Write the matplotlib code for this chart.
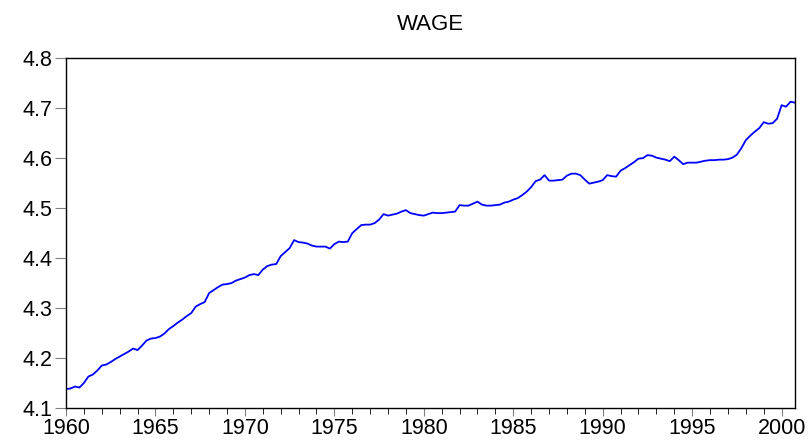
import numpy as np
import matplotlib.pyplot as plt
from matplotlib.ticker import MultipleLocator

plt.rcParams['font.family'] = ['Liberation Sans', 'DejaVu Sans']

# quarterly observations, 1960Q1 .. 2000Q4
start_year = 1960
wage = [
    4.138, 4.139, 4.143, 4.141,  # 1960
    4.150, 4.163, 4.167, 4.175,  # 1961
    4.185, 4.187, 4.192, 4.198,  # 1962
    4.203, 4.208, 4.213, 4.219,  # 1963
    4.216, 4.225, 4.235, 4.239,  # 1964
    4.240, 4.243, 4.249, 4.258,  # 1965
    4.264, 4.271, 4.277, 4.284,  # 1966
    4.290, 4.303, 4.308, 4.312,  # 1967
    4.330, 4.336, 4.342, 4.347,  # 1968
    4.348, 4.350, 4.355, 4.358,  # 1969
    4.361, 4.366, 4.368, 4.366,  # 1970
    4.377, 4.384, 4.387, 4.388,  # 1971
    4.404, 4.412, 4.420, 4.436,  # 1972
    4.432, 4.431, 4.429, 4.425,  # 1973
    4.423, 4.423, 4.423, 4.419,  # 1974
    4.428, 4.433, 4.432, 4.433,  # 1975
    4.450, 4.458, 4.466, 4.467,  # 1976
    4.467, 4.470, 4.477, 4.488,  # 1977
    4.485, 4.487, 4.489, 4.493,  # 1978
    4.496, 4.490, 4.488, 4.486,  # 1979
    4.485, 4.488, 4.491, 4.490,  # 1980
    4.490, 4.491, 4.492, 4.493,  # 1981
    4.506, 4.505, 4.505, 4.509,  # 1982
    4.513, 4.507, 4.505, 4.505,  # 1983
    4.506, 4.507, 4.511, 4.513,  # 1984
    4.517, 4.520, 4.526, 4.533,  # 1985
    4.542, 4.554, 4.557, 4.566,  # 1986
    4.555, 4.555, 4.556, 4.557,  # 1987
    4.565, 4.569, 4.569, 4.566,  # 1988
    4.557, 4.549, 4.551, 4.553,  # 1989
    4.556, 4.566, 4.564, 4.563,  # 1990
    4.575, 4.580, 4.586, 4.592,  # 1991
    4.599, 4.600, 4.606, 4.605,  # 1992
    4.601, 4.599, 4.597, 4.594,  # 1993
    4.603, 4.596, 4.588, 4.591,  # 1994
    4.591, 4.591, 4.593, 4.595,  # 1995
    4.596, 4.596, 4.597, 4.597,  # 1996
    4.598, 4.601, 4.607, 4.620,  # 1997
    4.636, 4.645, 4.653, 4.660,  # 1998
    4.672, 4.669, 4.670, 4.679,  # 1999
    4.706, 4.703, 4.713, 4.711,  # 2000
]
year_ticks = [1960, 1965, 1970, 1975, 1980, 1985, 1990, 1995, 2000]
value_ticks = [4.1, 4.2, 4.3, 4.4, 4.5, 4.6, 4.7, 4.8]

t = start_year + np.arange(len(wage)) / 4.0

fig = plt.figure(figsize=(8.1, 4.4), dpi=100)
ax = fig.add_axes([0.0815, 0.0727, 0.9, 0.795])
ax.plot(t, wage, color='#0000ff', lw=1.3)

ax.set_xlim(t[0], t[-1])
ax.set_ylim(4.1, 4.8)
ax.set_xticks(year_ticks)
ax.xaxis.set_minor_locator(MultipleLocator(1))
ax.set_yticks(value_ticks)
ax.set_yticklabels(['%.1f' % v for v in value_ticks])
ax.tick_params(axis='both', labelsize=15.5, direction='out', color='#808080')
ax.tick_params(axis='x', which='major', length=6, pad=1)
ax.tick_params(axis='x', which='minor', length=4)
ax.tick_params(axis='y', length=8, pad=2)
for s in ax.spines.values():
    s.set_linewidth(1.0)
    s.set_color('black')

ax.set_title('WAGE', fontsize=16, pad=20)

fig.savefig('out.png', dpi=100)
